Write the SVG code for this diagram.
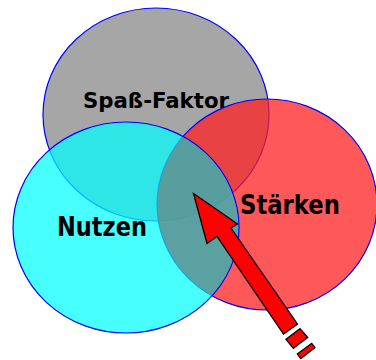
<svg xmlns="http://www.w3.org/2000/svg" width="376" height="360" viewBox="0 0 376 360">
<style>
.circ{stroke:#0000ff;stroke-width:1.2}
.lbl{font-family:"Comic Sans MS","DejaVu Sans",sans-serif;font-weight:bold;fill:#000}
.arr{fill:#ff0000;stroke:#000;stroke-width:1.3;stroke-linejoin:miter}
</style>
<defs>
<clipPath id="clipRed"><ellipse cx="267" cy="204.5" rx="110" ry="105.5"/></clipPath>
</defs>
<rect width="376" height="360" fill="#fff"/>
<g id="node-spass">
<ellipse class="circ" cx="156" cy="114.5" rx="113" ry="106.5" fill="#808080" fill-opacity="0.7"/>
</g>
<g id="node-staerken">
<ellipse class="circ" cx="267" cy="204.5" rx="110" ry="105.5" fill="#ff2020" fill-opacity="0.75"/>
</g>
<g id="node-nutzen">
<ellipse class="circ" cx="126" cy="227.5" rx="113" ry="105.5" fill="#00ffff" fill-opacity="0.72"/>
<ellipse cx="126" cy="227.5" rx="112.4" ry="104.9" fill="#727272" fill-opacity="0.5" clip-path="url(#clipRed)"/>
</g>
<g id="labels">
<text class="lbl" x="83" y="107.5" font-size="21" textLength="146" lengthAdjust="spacingAndGlyphs">Spaß-Faktor</text>
<text class="lbl" x="57" y="236" font-size="26" textLength="90" lengthAdjust="spacingAndGlyphs">Nutzen</text>
<text class="lbl" x="240" y="213.5" font-size="26" textLength="100" lengthAdjust="spacingAndGlyphs">Stärken</text>
</g>
<g id="connectors">
<polygon class="arr" points="193.5,193.5 237.5,224 231,228 297.5,324 283.5,334 217,236.5 207,243.5"/>
<polygon class="arr" points="286,339.3 300,328.7 307.7,337.3 293.3,348.3"/>
<polygon class="arr" points="297.3,354 311.7,343.3 315,347.7 300.7,358.7"/>
</g>
</svg>
